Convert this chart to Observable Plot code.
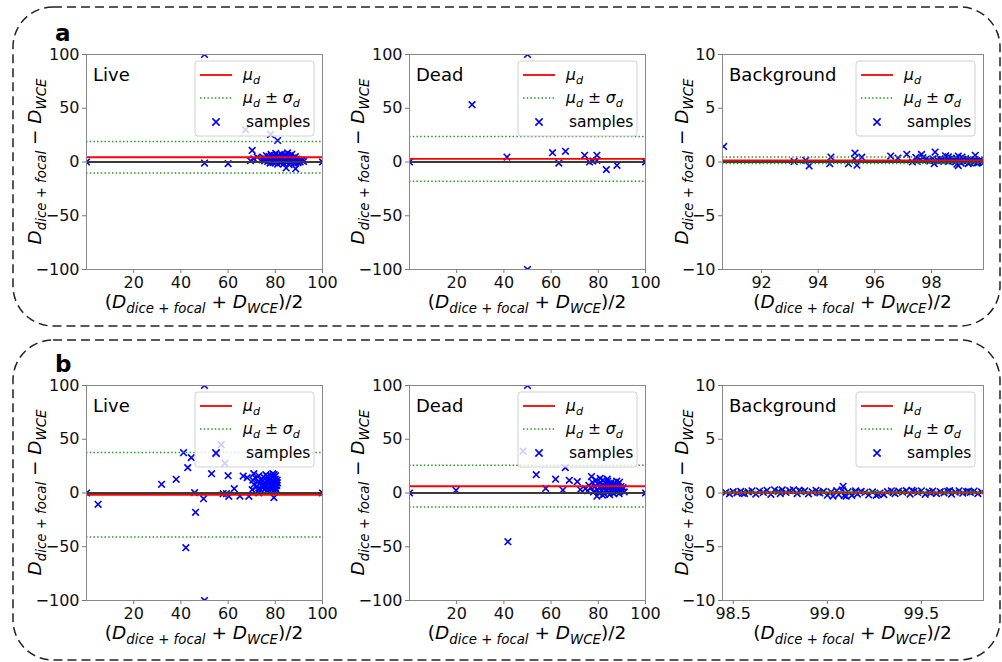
<!DOCTYPE html>
<html><head><meta charset="utf-8">
<script src="https://cdn.jsdelivr.net/npm/d3@7"></script>
<script src="https://cdn.jsdelivr.net/npm/@observablehq/plot@0.6"></script>
<style>
body{margin:0;background:#fff;font-family:"DejaVu Sans",sans-serif;}
#fig{position:relative;width:1002px;height:662px;overflow:hidden;background:#fff;}
#fig > svg{position:absolute;}
</style></head><body><div id="fig"></div>
<script>
// ---------- DATA ----------
const panelNames = ["Live", "Dead", "Background"];
const rowTags = ["a", "b"];

const liveA = [[0,0],[100,0],[50,100],[50,-1],[60,-1.5],[67.4,30],[78,25.6],[81,20],[70.2,10.8],[70.9,3],[69.5,1.2],[72.3,4.6],[91.4,1.4],[88.6,-6.2],[84.6,-5.5],
[74.5,2],[75,4],[75.5,1],[76,3],[76.2,6],[76.8,0.5],[77,2.5],[77.3,5],[77.8,-1],[78,3.5],[78.2,7],[78.5,1.5],[78.8,4.5],[79,-0.5],[79.2,2.8],[79.5,6],[79.8,1],[80,3.5],[80.2,8],[80.4,0],[80.6,2.2],[80.8,5],[81,-2],[81.2,3],[81.5,6.5],[81.7,1.2],[82,4],[82.2,-0.8],[82.4,2.6],[82.6,7],[82.8,3.8],[83,0.5],[83.2,5.5],[83.4,2],[83.6,-1.5],[83.8,4.2],[84,1],[84.2,6.8],[84.4,3],[84.6,-0.2],[84.8,5],[85,2.4],[85.2,8.5],[85.4,0.8],[85.6,3.6],[85.8,-2.5],[86,6],[86.2,1.8],[86.4,4.4],[86.6,-0.6],[86.8,2.9],[87,7.2],[87.3,1.2],[87.6,3.8],[87.9,-1],[88.2,2],[88.5,5],[88.8,0.4],[89.2,2.6],[89.6,-0.5],[90,1.5],[90.5,0],[91,2],[92,0.5]];

const deadA = [[0,0],[100,0],[50,100],[50,-100],[26.5,53.3],[41.3,4.6],[60.6,8.7],[63.3,-1],[66.1,9.9],[74.2,6.2],[76.3,0],[77.7,1],[79.4,6.2],[79.4,1.5],[83.4,-7.1],[87.9,-3.1]];

const bgA = [[90.66,1.45],[93.15,0.05],[93.56,0.16],[93.68,-0.37],[94.45,0.46],[94.41,-0.16],[95.07,-0.16],[95.3,0.83],[95.28,0.3],[95.37,-0.3],[95.54,0.45],[96.56,0.55],[96.82,0.37],[97.13,0.72],[97.33,0],[97.45,0.42],[97.65,0.7],[97.7,0.4],[97.9,0.15],[98.13,0.92],[98.1,-0.16],[98.5,0.58],[98.6,0.48],[98.95,0.55],[98.95,-0.33],[99.08,0.46],[99.55,0.62],
[97.5,0.05],[97.6,0.2],[97.8,0.25],[97.95,0.1],[98.05,0.3],[98.2,0.2],[98.25,0.05],[98.3,0.3],[98.35,0.15],[98.4,0.25],[98.45,0.1],[98.55,0.3],[98.6,0.05],[98.65,0.2],[98.7,0.35],[98.75,0.1],[98.8,0.25],[98.85,0],[98.9,0.3],[99,0.15],[99.05,-0.1],[99.1,0.25],[99.15,0.05],[99.2,0.3],[99.25,0.1],[99.3,0.2],[99.35,-0.05],[99.4,0.25],[99.45,0.1],[99.5,0],[99.55,0.2],[99.6,0.1],[99.65,-0.05],[99.7,0.15],[99.75,0],[99.8,0.1],[99.83,-0.05],[99.3,-0.15],[98.9,-0.2],[99.6,-0.1]];

const liveB = [[0,0],[100,0],[50,100],[50,-100],[4.9,-10.5],[31.8,8.1],[38,12.7],[41.1,37.5],[44.4,32.9],[42.9,23.6],[42.1,-50.9],[45.8,0.3],[46.2,-18],[49.6,-5.3],[53,18],[55.1,36],[57.1,45],[58.6,27.6],[60,16.1],[60.3,-3.1],[57.9,-0.6],[59.3,-0.6],[62.6,4],[65,-2.8],[66.4,15.8],[68.1,14.3],[68.8,-3.1],[70.9,18],[70.2,3.1],[73,0],[79.4,-4.3],
[70.5,12],[71,8],[71.5,14],[72,6],[72.5,10],[73,16],[73.5,4],[74,12],[74.5,8],[75,15],[75.3,3],[75.6,10],[76,17],[76.2,6],[76.5,12],[76.8,2],[77,9],[77.2,14],[77.5,5],[77.7,11],[78,16],[78.2,7],[78.4,13],[78.6,3],[78.8,9],[79,15],[79.2,6],[79.4,11],[79.6,1],[79.8,8],[80,13],[80.2,4],[80.4,10],[80.6,7],[80.8,12],[79.5,17],[78.9,18],[77.8,1.5],[76.6,15.5],[80.1,16],[80.5,2.5],[74.8,5.5],[73.8,9.5],[72.8,2.5],[75.8,7.5],[77.4,12.5],[78.5,5.5],[79.9,5],[80.9,9.5],[79.1,12.5]];

const deadB = [[0,0],[100,0],[50,100],[19.7,2.5],[41.7,-45.3],[48.1,39],[53.7,17],[57.7,4.2],[61.9,12.8],[65,2.7],[66,23.6],[67.7,11.8],[71.1,10.5],[72.4,3.2],[77.1,15.3],[79.4,-3],
[74.5,4],[75.5,2],[76,7],[76.8,5],[77.5,10],[78,1],[78.5,6],[79,12],[79.5,3],[80,8],[80.3,0],[80.6,5],[81,10],[81.3,2],[81.6,7],[82,12],[82.3,4],[82.6,-1],[83,9],[83.3,3],[83.6,6],[84,11],[84.3,1],[84.6,5],[85,8],[85.3,2],[85.6,10],[86,4],[86.3,7],[86.6,-0.5],[87,9],[87.3,3],[87.6,6],[88,1],[88.3,8],[88.6,4],[89,10],[89.3,2],[89.6,6],[90,3],[90.5,5],[91,1],[81.8,-2],[84.8,-1.5],[87.8,11],[83.8,13],[80.8,13.5],[82.8,6.5],[85.8,5.5],[88.8,-0.5]];

const bgB = [[98.46,0.05],[98.48,-0.08],[98.5,0.12],[98.52,0.02],[98.54,0.15],[98.56,-0.05],[98.58,0.1],[98.6,0.2],[98.62,-0.1],[98.64,0.18],[98.66,0.05],[98.68,0.25],[98.7,-0.12],[98.72,0.3],[98.74,0.15],[98.76,0.28],[98.78,0.05],[98.8,0.22],[98.82,0.3],[98.84,-0.05],[98.86,0.12],[98.88,0.2],[98.9,-0.08],[98.92,0.1],[98.94,0.25],[98.96,0],[98.98,0.15],[99,-0.2],[99.02,0.1],[99.03,-0.28],[99.05,0.22],[99.06,-0.15],[99.08,0.3],[99.084,0.62],[99.1,-0.3],[99.11,0.12],[99.13,-0.22],[99.15,0.2],[99.16,-0.1],[99.18,0.15],[99.2,0.05],[99.22,-0.18],[99.24,0.1],[99.26,-0.22],[99.28,0],[99.3,-0.15],[99.32,0.12],[99.34,0.2],[99.36,-0.05],[99.38,0.18],[99.4,0.08],[99.42,0.22],[99.44,-0.1],[99.46,0.15],[99.48,0.05],[99.5,0.2],[99.52,-0.12],[99.54,0.1],[99.56,0.18],[99.58,-0.05],[99.6,0.12],[99.62,0.02],[99.64,0.15],[99.66,-0.1],[99.68,0.08],[99.7,0.2],[99.72,-0.02],[99.74,0.12],[99.76,0.05],[99.78,0.18],[99.8,-0.05],[99.82,0.1],[98.55,-0.02],[98.75,-0.05],[98.95,0.08],[99.15,0.05],[99.35,0.05],[99.55,0.02],[99.75,0.15],[98.85,0.26],[99.09,-0.25],[99.27,-0.12],[99.45,0.25],[99.65,0.22]];

const meansA = [4.4, 2.9, 0.155];
const sdsA = [14.6, 20.9, 0.305];
const meansB = [-1.7, 6.3, 0.05];
const sdsB = [39.3, 19.4, 0.1];

const xTicksPct = [20, 40, 60, 80, 100];
const xTicksBgA = [92, 94, 96, 98];
const xTicksBgB = [98.5, 99.0, 99.5];
const yTicksPct = [-100, -50, 0, 50, 100];
const yTicksBg = [-10, -5, 0, 5, 10];
const xDomPct = [0, 100];
const xDomBgA = [90.62, 99.84];
const xDomBgB = [98.443, 99.83];
const yDomPct = [-100, 100];
const yDomBg = [-10, 10];

// ---------- LAYOUT ----------
const cols = [{l: 86, w: 236}, {l: 409, w: 236}, {l: 722, w: 261}];
const rowsTop = [54, 385];
const PH = 215;
const ML = 60, MR = 12, MT = 10, MB = 40;
const FONT = '"DejaVu Sans", sans-serif';
const LBL = 18.5, TICK = 16;

const minusFmt = d => (d < 0 ? "\u2212" + String(-d) : String(d));

const panels = [
  {row: 0, col: 0, data: liveA, mean: meansA[0], sd: sdsA[0], xd: xDomPct, yd: yDomPct, xt: xTicksPct, yt: yTicksPct, xf: minusFmt},
  {row: 0, col: 1, data: deadA, mean: meansA[1], sd: sdsA[1], xd: xDomPct, yd: yDomPct, xt: xTicksPct, yt: yTicksPct, xf: minusFmt},
  {row: 0, col: 2, data: bgA, mean: meansA[2], sd: sdsA[2], xd: xDomBgA, yd: yDomBg, xt: xTicksBgA, yt: yTicksBg, xf: minusFmt},
  {row: 1, col: 0, data: liveB, mean: meansB[0], sd: sdsB[0], xd: xDomPct, yd: yDomPct, xt: xTicksPct, yt: yTicksPct, xf: minusFmt},
  {row: 1, col: 1, data: deadB, mean: meansB[1], sd: sdsB[1], xd: xDomPct, yd: yDomPct, xt: xTicksPct, yt: yTicksPct, xf: minusFmt},
  {row: 1, col: 2, data: bgB, mean: meansB[2], sd: sdsB[2], xd: xDomBgB, yd: yDomBg, xt: xTicksBgB, yt: yTicksBg, xf: d => d.toFixed(1)}
];

const fig = document.getElementById("fig");

for (const p of panels) {
  const c = cols[p.col], t = rowsTop[p.row];
  const chart = Plot.plot({
    width: ML + c.w + MR, height: MT + PH + MB,
    marginLeft: ML, marginRight: MR, marginTop: MT, marginBottom: MB,
    x: {domain: p.xd, label: null},
    y: {domain: p.yd, label: null},
    style: {fontFamily: FONT, fontSize: TICK + "px", background: "transparent", overflow: "visible", color: "#111"},
    marks: [
      Plot.dot(p.data, {x: d => d[0], y: d => d[1], symbol: "times", r: 3.1, stroke: "blue", strokeWidth: 1.6, clip: true}),
      Plot.ruleY([0], {stroke: "#3a3a3a", strokeWidth: 2}),
      Plot.ruleY([p.mean], {stroke: "red", strokeWidth: 1.8}),
      Plot.ruleY([p.mean - p.sd, p.mean + p.sd], {stroke: "#1f9e1f", strokeWidth: 1.5, strokeDasharray: "1.5,2.2"}),
      Plot.axisX(p.xt, {tickSize: 4, tickPadding: 3, tickFormat: p.xf, stroke: "#777", fill: "#111", fontSize: TICK, label: null}),
      Plot.axisY(p.yt, {tickSize: 4, tickPadding: 3, tickFormat: minusFmt, stroke: "#777", fill: "#111", fontSize: TICK, label: null}),
      Plot.frame({stroke: "#888"})
    ]
  });
  chart.style.left = (c.l - ML) + "px";
  chart.style.top = (t - MT) + "px";
  fig.appendChild(chart);
}

// ---------- OVERLAY (boxes, tags, labels, legends) ----------
const ov = d3.select(fig).append("svg")
  .attr("width", 1002).attr("height", 662)
  .style("left", "0px").style("top", "0px")
  .style("font-family", FONT);

[[7, 326], [340, 660]].forEach(([y0, y1]) => {
  ov.append("rect").attr("x", 13).attr("y", y0).attr("width", 987).attr("height", y1 - y0)
    .attr("rx", 40).attr("ry", 40).attr("fill", "none")
    .attr("stroke", "#222").attr("stroke-width", 1.5).attr("stroke-dasharray", "9,5");
});
ov.append("text").attr("x", 55).attr("y", 41).attr("font-size", 23).attr("font-weight", "bold").text(rowTags[0]);
ov.append("text").attr("x", 55).attr("y", 372).attr("font-size", 23).attr("font-weight", "bold").text(rowTags[1]);

function mathText(sel, parts, size) {
  const sub = size * 0.72, shift = size * 0.28;
  let cur = 0;
  for (const pt of parts) {
    const ts = sel.append("tspan").text(pt.t);
    const target = pt.sub ? shift : 0;
    if (target !== cur) { ts.attr("dy", target - cur); cur = target; }
    ts.attr("font-size", pt.sub ? sub : size);
    if (pt.it) ts.attr("font-style", "italic");
  }
}
const yLabelParts = [{t: "D", it: 1}, {t: "dice", it: 1, sub: 1}, {t: " + ", sub: 1}, {t: "focal", it: 1, sub: 1}, {t: " \u2212 "}, {t: "D", it: 1}, {t: "WCE", it: 1, sub: 1}];
const xLabelParts = [{t: "("}, {t: "D", it: 1}, {t: "dice", it: 1, sub: 1}, {t: " + ", sub: 1}, {t: "focal", it: 1, sub: 1}, {t: " + "}, {t: "D", it: 1}, {t: "WCE", it: 1, sub: 1}, {t: ")/2"}];
const muParts = [{t: "\u03bc", it: 1}, {t: "d", it: 1, sub: 1}];
const muSdParts = [{t: "\u03bc", it: 1}, {t: "d", it: 1, sub: 1}, {t: " \u00b1 "}, {t: "\u03c3", it: 1}, {t: "d", it: 1, sub: 1}];

for (const p of panels) {
  const c = cols[p.col], t = rowsTop[p.row];
  ov.append("text").attr("x", c.l + 7).attr("y", t + 27).attr("font-size", 18).text(panelNames[p.col]);
  const yx = c.l - (p.col === 2 ? 34 : 45), yy = t + PH / 2;
  const yl = ov.append("text").attr("text-anchor", "middle").attr("font-size", LBL)
    .attr("transform", `translate(${yx},${yy}) rotate(-90)`);
  mathText(yl, yLabelParts, LBL);
  const xl = ov.append("text").attr("text-anchor", "middle").attr("font-size", LBL)
    .attr("x", c.l + c.w / 2).attr("y", t + PH + 39);
  mathText(xl, xLabelParts, LBL);
  const bw = 119, bh = 75, bx = c.l + c.w - 8 - bw, by = t + 7;
  ov.append("rect").attr("x", bx).attr("y", by).attr("width", bw).attr("height", bh).attr("rx", 3)
    .attr("fill", "white").attr("fill-opacity", 0.8).attr("stroke", "#d0d0d0");
  ov.append("line").attr("x1", bx + 5).attr("x2", bx + 37).attr("y1", by + 14).attr("y2", by + 14)
    .attr("stroke", "red").attr("stroke-width", 1.8);
  ov.append("line").attr("x1", bx + 5).attr("x2", bx + 37).attr("y1", by + 37).attr("y2", by + 37)
    .attr("stroke", "#1f9e1f").attr("stroke-width", 1.5).attr("stroke-dasharray", "1.5,2.2");
  ov.append("path").attr("d", d3.symbol(d3.symbolTimes, 36)())
    .attr("transform", `translate(${bx + 21},${by + 61})`).attr("fill", "none").attr("stroke", "blue").attr("stroke-width", 1.6);
  mathText(ov.append("text").attr("x", bx + 48).attr("y", by + 19).attr("font-size", 15.5), muParts, 15.5);
  mathText(ov.append("text").attr("x", bx + 48).attr("y", by + 42).attr("font-size", 15.5), muSdParts, 15.5);
  ov.append("text").attr("x", bx + 51).attr("y", by + 66).attr("font-size", 15.5).text("samples");
}
</script></body></html>
